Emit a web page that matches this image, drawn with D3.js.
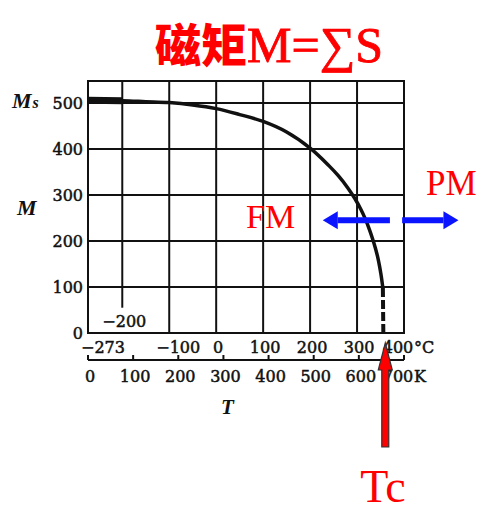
<!DOCTYPE html>
<html>
<head>
<meta charset="utf-8">
<script src="https://cdn.jsdelivr.net/npm/d3@7"></script>
<style>
  body { margin: 0; background: #fff; }
  svg { display: block; }
  .num { font-family: "DejaVu Serif", serif; font-size: 16px; fill: #111; stroke: #111; stroke-width: 0.5px; }
  .ital { font-family: "Liberation Serif", serif; font-style: italic; font-weight: bold; fill: #111; }
</style>
</head>
<body>
<div id="chart"></div>
<script>
// M(T) of nickel, T in Celsius
var tempC = [-273, -200, -150, -100, -50, 0, 50, 100, 150, 200, 240, 260, 280, 295, 308, 318, 326, 333, 339, 344, 348, 351, 353, 355];
var moment = [506, 505, 503, 501, 496, 488, 475, 460, 437, 402, 364, 342, 316, 293, 269, 247, 226, 205, 185, 165, 145, 127, 113, 98];
// dashed tail down to Tc
var tailC = [355, 356];
var tailM = [98, 0];

var yTicks = [0, 100, 200, 300, 400, 500];
var cTicks = [-273, -100, 0, 100, 200, 300, 400];
var cGrid = [-200, -100, 0, 100, 200, 300];
var kTicks = [0, 100, 200, 300, 400, 500, 600, 700];
var Tc = 358;

var W = 488, H = 516;
var svg = d3.select("#chart").append("svg")
  .attr("width", W).attr("height", H);

//scales
var x = d3.scaleLinear().domain([-273, 400]).range([88, 404]);
var xK = d3.scaleLinear().domain([0, 700]).range([88, 404]);
var y = d3.scaleLinear().domain([0, 548]).range([333, 81]);

//title
var title = svg.append("text")
  .attr("x", 155).attr("y", 62)
  .attr("fill", "#ff0000");
title.append("tspan")
  .style("font-family", "'Noto Sans CJK SC'")
  .style("font-weight", 900)
  .style("font-size", "46px")
  .text("磁矩");
title.append("tspan")
  .style("font-family", "'Liberation Serif', serif")
  .style("font-size", "50px")
  .attr("stroke", "#ff0000").attr("stroke-width", 0.8)
  .text("M=∑S");

//grid
var grid = svg.append("g").attr("stroke", "#111").attr("stroke-width", 2);
grid.selectAll(".hl")
  .data(yTicks.filter(d => d > 0))
  .enter().append("line")
  .attr("x1", x(-273)).attr("x2", x(400))
  .attr("y1", d => y(d)).attr("y2", d => y(d));
grid.selectAll(".vl")
  .data(cGrid)
  .enter().append("line")
  .attr("x1", d => x(d)).attr("x2", d => x(d))
  .attr("y1", y(548))
  .attr("y2", d => d == -200 ? y(55) : y(0));
grid.append("rect")
  .attr("x", x(-273)).attr("y", y(548))
  .attr("width", x(400) - x(-273)).attr("height", y(0) - y(548))
  .attr("fill", "none");

//y labels
svg.selectAll(".ylab")
  .data(yTicks)
  .enter().append("text")
  .attr("class", "num")
  .attr("x", 83)
  .attr("y", d => y(d) + 6)
  .attr("text-anchor", "end")
  .text(d => d);
svg.append("text").attr("class", "ital")
  .attr("x", 12).attr("y", 108).style("font-size", "22px")
  .text("M").append("tspan").style("font-size", "16px").attr("dx", 1).text("s");
svg.append("text").attr("class", "ital")
  .attr("x", 17).attr("y", 215).style("font-size", "22px").text("M");

//celsius labels
svg.selectAll(".clab")
  .data(cTicks)
  .enter().append("text")
  .attr("class", "num")
  .attr("x", d => d < 0 ? x(d) + (d == -273 ? 15 : 9) : x(d) + (d == 400 ? -6 : 2))
  .attr("y", 353)
  .attr("text-anchor", "middle")
  .text(d => d < 0 ? "\u2212" + Math.abs(d) : d);
svg.append("text").attr("class", "num")
  .attr("x", x(400) + 10).attr("y", 353).text("°C");
svg.append("text").attr("class", "num")
  .attr("x", x(-200) + 2).attr("y", 327).attr("text-anchor", "middle")
  .text("\u2212200");

//kelvin axis
var kAxis = svg.append("g").attr("stroke", "#111").attr("stroke-width", 2);
kAxis.append("line")
  .attr("x1", xK(0)).attr("x2", xK(700))
  .attr("y1", 360).attr("y2", 360);
kAxis.selectAll(".kt")
  .data(kTicks)
  .enter().append("line")
  .attr("x1", d => xK(d)).attr("x2", d => xK(d))
  .attr("y1", 360).attr("y2", 355);
svg.selectAll(".klab")
  .data(kTicks)
  .enter().append("text")
  .attr("class", "num")
  .attr("x", d => xK(d) + (d == 700 ? -6 : 2))
  .attr("y", 382)
  .attr("text-anchor", "middle")
  .text(d => d);
svg.append("text").attr("class", "num")
  .attr("x", xK(700) + 10).attr("y", 382).text("K");
svg.append("text").attr("class", "ital")
  .attr("x", 221).attr("y", 414).style("font-size", "21px").text("T");

//curve
var pts = tempC.map((t, i) => [t, moment[i]]);
var line = d3.line()
  .x(d => x(d[0]))
  .y(d => y(d[1]))
  .curve(d3.curveCatmullRom.alpha(0.5));
svg.append("path")
  .datum(pts)
  .attr("d", line)
  .attr("fill", "none")
  .attr("stroke", "#111")
  .attr("stroke-width", 3.5);
svg.append("path")
  .datum(pts.filter(d => d[0] <= -200))
  .attr("d", line)
  .attr("fill", "none")
  .attr("stroke", "#111")
  .attr("stroke-width", 7);
svg.append("path")
  .datum(tailC.map((t, i) => [t, tailM[i]]))
  .attr("d", d3.line().x(d => x(d[0])).y(d => y(d[1])))
  .attr("fill", "none")
  .attr("stroke", "#111")
  .attr("stroke-width", 4)
  .attr("stroke-dasharray", "9,3");

//FM / PM arrows
var blue = "#0a14ff";
function hArrow(x0, x1, yy) {
  var dir = x1 > x0 ? 1 : -1;
  var head = 15;
  svg.append("line")
    .attr("x1", x0).attr("x2", x1 - dir * head)
    .attr("y1", yy).attr("y2", yy)
    .attr("stroke", blue).attr("stroke-width", 6);
  svg.append("path")
    .attr("d", "M" + x1 + "," + yy + "L" + (x1 - dir * head) + "," + (yy - 9) + "L" + (x1 - dir * head) + "," + (yy + 9) + "Z")
    .attr("fill", blue);
}
var yArrow = y(245);
hArrow(x(370), x(227), yArrow);
hArrow(x(396), x(516), yArrow);

svg.append("text")
  .attr("x", 246).attr("y", 228)
  .attr("fill", "#ff0000")
  .style("font-family", "'Liberation Serif', serif")
  .style("font-size", "34px")
  .text("FM");
svg.append("text")
  .attr("x", 426).attr("y", 195)
  .attr("fill", "#ff0000")
  .style("font-family", "'Liberation Serif', serif")
  .style("font-size", "35px")
  .text("PM");

//Tc arrow
var xa = x(Tc) + 1;
svg.append("path")
  .attr("d", "M" + xa + ",343 L" + (xa + 7) + ",370 L" + (xa + 3.5) + ",370 L" + (xa + 3.5) + ",447 L" + (xa - 3.5) + ",447 L" + (xa - 3.5) + ",370 L" + (xa - 7) + ",370 Z")
  .attr("fill", "#ff0000")
  .attr("stroke", "#333")
  .attr("stroke-width", 1.2);
svg.append("text")
  .attr("x", xa - 25).attr("y", 502)
  .attr("fill", "#ff0000")
  .style("font-family", "'Liberation Serif', serif")
  .style("font-size", "46px")
  .text("Tc");
</script>
</body>
</html>
